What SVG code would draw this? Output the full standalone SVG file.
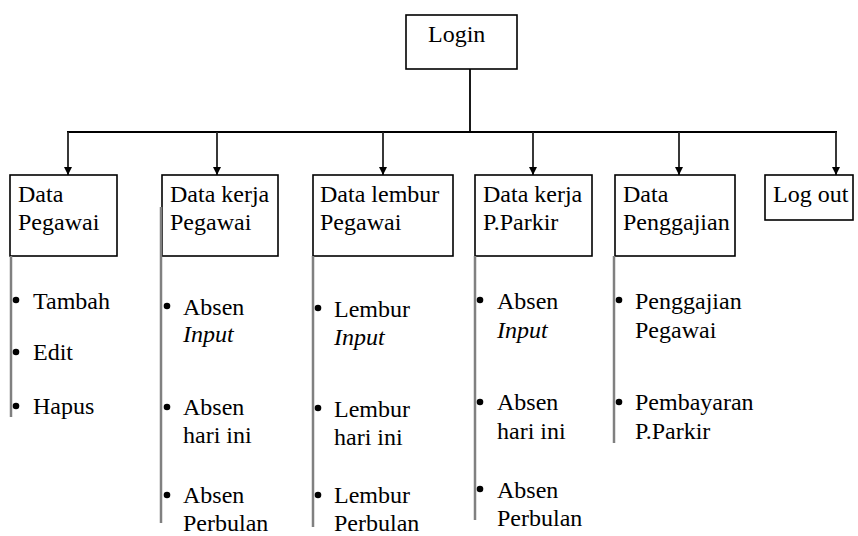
<svg xmlns="http://www.w3.org/2000/svg" width="858" height="536" viewBox="0 0 858 536">
<defs>
<marker id="ah" viewBox="0 0 10 10" refX="10" refY="5" markerWidth="8" markerHeight="8" markerUnits="userSpaceOnUse" orient="auto">
<path d="M0,0 L10,5 L0,10 z" fill="#000"/>
</marker>
<style>
.box{fill:#fff;stroke:#000;stroke-width:1.6}
.c{stroke:#000;stroke-width:1.8;fill:none}
.a{stroke:#222;stroke-width:1.8;fill:none;marker-end:url(#ah)}
.v{stroke:#808080;stroke-width:2.5;fill:none}
.b{fill:#000}
</style>
</defs>
<rect width="858" height="536" fill="#fff"/>
<g id="connectors">
<line class="c" x1="470" y1="69" x2="470" y2="132"/>
<line class="c" x1="67" y1="132" x2="837" y2="132"/>
<line class="a" x1="68" y1="132" x2="68" y2="175"/>
<line class="a" x1="217" y1="132" x2="217" y2="175"/>
<line class="a" x1="383" y1="132" x2="383" y2="175"/>
<line class="a" x1="533" y1="132" x2="533" y2="175"/>
<line class="a" x1="679" y1="132" x2="679" y2="175"/>
<line class="a" x1="836" y1="132" x2="836" y2="175"/>
</g>
<g id="login" font-family="Liberation Serif" font-size="24">
<rect class="box" x="406" y="15" width="111" height="54"/>
<text x="428" y="42">Login</text>
</g>
<g id="data-pegawai" font-family="Liberation Serif" font-size="24">
<rect class="box" x="10" y="175" width="107" height="81"/>
<text x="18" y="202">Data</text>
<text x="18" y="230">Pegawai</text>
<line class="v" x1="11" y1="256" x2="11" y2="417"/>
<circle class="b" cx="16" cy="300" r="3.3"/>
<text x="33" y="309">Tambah</text>
<circle class="b" cx="16" cy="352" r="3.3"/>
<text x="33" y="360">Edit</text>
<circle class="b" cx="16" cy="406" r="3.3"/>
<text x="33" y="414">Hapus</text>
</g>
<g id="data-kerja-pegawai" font-family="Liberation Serif" font-size="24">
<rect class="box" x="162" y="175" width="116" height="81"/>
<text x="170" y="202">Data kerja</text>
<text x="170" y="230">Pegawai</text>
<line class="v" x1="161" y1="207" x2="161" y2="523"/>
<circle class="b" cx="167" cy="306" r="3.3"/>
<text x="183" y="315">Absen</text>
<text font-style="italic" x="183" y="342">Input</text>
<circle class="b" cx="167" cy="407" r="3.3"/>
<text x="183" y="415">Absen</text>
<text x="183" y="443">hari ini</text>
<circle class="b" cx="167" cy="495" r="3.3"/>
<text x="183" y="503">Absen</text>
<text x="183" y="531">Perbulan</text>
</g>
<g id="data-lembur-pegawai" font-family="Liberation Serif" font-size="24">
<rect class="box" x="313" y="175" width="140" height="81"/>
<text x="320" y="202">Data lembur</text>
<text x="320" y="230">Pegawai</text>
<line class="v" x1="313" y1="256" x2="313" y2="527"/>
<circle class="b" cx="318" cy="308" r="3.3"/>
<text x="334" y="317">Lembur</text>
<text font-style="italic" x="334" y="345">Input</text>
<circle class="b" cx="318" cy="408" r="3.3"/>
<text x="334" y="417">Lembur</text>
<text x="334" y="445">hari ini</text>
<circle class="b" cx="318" cy="495" r="3.3"/>
<text x="334" y="503">Lembur</text>
<text x="334" y="531">Perbulan</text>
</g>
<g id="data-kerja-parkir" font-family="Liberation Serif" font-size="24">
<rect class="box" x="475" y="175" width="117" height="81"/>
<text x="483" y="202">Data kerja</text>
<text x="483" y="230">P.Parkir</text>
<line class="v" x1="475" y1="256" x2="475" y2="520"/>
<circle class="b" cx="480" cy="300" r="3.3"/>
<text x="497" y="309">Absen</text>
<text font-style="italic" x="497" y="338">Input</text>
<circle class="b" cx="480" cy="402" r="3.3"/>
<text x="497" y="410">Absen</text>
<text x="497" y="439">hari ini</text>
<circle class="b" cx="480" cy="489" r="3.3"/>
<text x="497" y="498">Absen</text>
<text x="497" y="526">Perbulan</text>
</g>
<g id="data-penggajian" font-family="Liberation Serif" font-size="24">
<rect class="box" x="615" y="175" width="120" height="81"/>
<text x="623" y="202">Data</text>
<text x="623" y="230">Penggajian</text>
<line class="v" x1="614" y1="256" x2="614" y2="443"/>
<circle class="b" cx="619" cy="300" r="3.3"/>
<text x="635" y="309">Penggajian</text>
<text x="635" y="338">Pegawai</text>
<circle class="b" cx="619" cy="402" r="3.3"/>
<text x="635" y="410">Pembayaran</text>
<text x="635" y="439">P.Parkir</text>
</g>
<g id="logout" font-family="Liberation Serif" font-size="24">
<rect class="box" x="765" y="175" width="88" height="45"/>
<text x="773" y="202">Log out</text>
</g>
</svg>
